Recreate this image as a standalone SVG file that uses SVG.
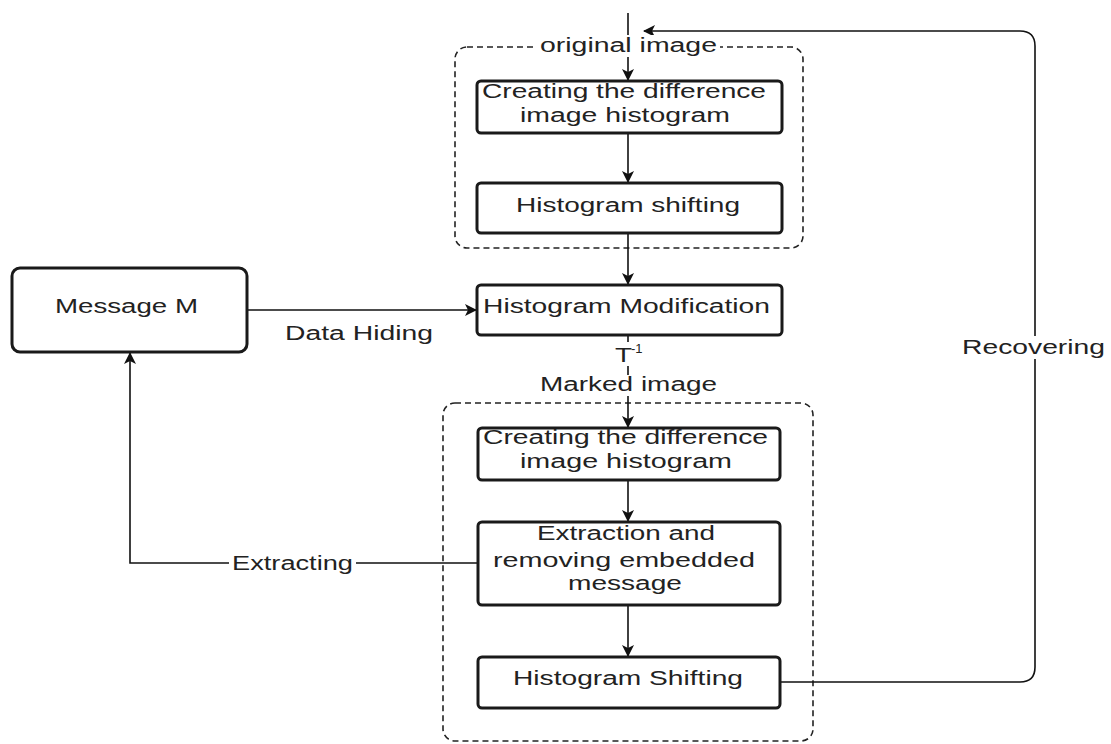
<svg xmlns="http://www.w3.org/2000/svg" width="1111" height="744" viewBox="0 0 1111 744">
<style>
text{font-family:"Liberation Sans",Arial,sans-serif;font-size:20px;fill:#222}
.sup{font-size:13px}
.box{fill:#fff;stroke:#1a1a1a;stroke-width:3}
.grp{fill:none;stroke:#222;stroke-width:1.6;stroke-dasharray:6 4}
.ln{fill:none;stroke:#111;stroke-width:1.6}
.bg{fill:#fff}
</style>
<defs>
<marker id="ah" markerWidth="12" markerHeight="12" viewBox="0 0 12 12" refX="11" refY="6" orient="auto" markerUnits="userSpaceOnUse">
<path d="M0,0 L12,6 L0,12 L3,6 z" fill="#111"/>
</marker>
</defs>
<rect width="1111" height="744" fill="#fff"/>
<g id="group-top"><rect class="grp" x="455" y="47" width="348" height="201" rx="12"/></g>
<g id="group-bottom"><rect class="grp" x="443" y="403" width="370" height="338" rx="12"/></g>
<g id="connectors">
<path class="ln" d="M628,13 V80" marker-end="url(#ah)"/>
<path class="ln" d="M628,133 V182" marker-end="url(#ah)"/>
<path class="ln" d="M628,233 V284" marker-end="url(#ah)"/>
<path class="ln" d="M247,310 H476" marker-end="url(#ah)"/>
<path class="ln" d="M628,335 V427" marker-end="url(#ah)"/>
<path class="ln" d="M628,480 V521" marker-end="url(#ah)"/>
<path class="ln" d="M628,605 V656" marker-end="url(#ah)"/>
<path class="ln" d="M478,563 H130 V353" marker-end="url(#ah)"/>
<path class="ln" d="M781,682 H1020 Q1035,682 1035,667 V46 Q1035,31 1020,31 H644" marker-end="url(#ah)"/>
<rect class="bg" x="537" y="35" width="183" height="22"/>
<text x="540" y="52" textLength="177" lengthAdjust="spacingAndGlyphs">original image</text>
<rect class="bg" x="610" y="342" width="34" height="24"/>
<text x="615" y="362" textLength="17" lengthAdjust="spacingAndGlyphs">T</text>
<text class="sup" x="631" y="353">-1</text>
<rect class="bg" x="537" y="375" width="183" height="21"/>
<text x="540" y="391" textLength="177" lengthAdjust="spacingAndGlyphs">Marked image</text>
<rect class="bg" x="229" y="551" width="127" height="23"/>
<text x="232" y="570" textLength="121" lengthAdjust="spacingAndGlyphs">Extracting</text>
<rect class="bg" x="960" y="336" width="148" height="23"/>
<text x="962" y="354" textLength="143" lengthAdjust="spacingAndGlyphs">Recovering</text>
<text x="285" y="340" textLength="148" lengthAdjust="spacingAndGlyphs">Data Hiding</text>
</g>
<g id="node-create1">
<rect class="box" x="477" y="81" width="305" height="52" rx="4"/>
<text x="482" y="98" textLength="284" lengthAdjust="spacingAndGlyphs">Creating the difference</text>
<text x="520" y="122" textLength="210" lengthAdjust="spacingAndGlyphs">image histogram</text>
</g>
<g id="node-shift1">
<rect class="box" x="477" y="183" width="305" height="50" rx="4"/>
<text x="516" y="212" textLength="224" lengthAdjust="spacingAndGlyphs">Histogram shifting</text>
</g>
<g id="node-modification">
<rect class="box" x="477" y="285" width="305" height="50" rx="4"/>
<text x="483" y="313" textLength="287" lengthAdjust="spacingAndGlyphs">Histogram Modification</text>
</g>
<g id="node-message">
<rect class="box" x="12" y="268" width="235" height="84" rx="8"/>
<text x="55" y="313" textLength="143" lengthAdjust="spacingAndGlyphs">Message M</text>
</g>
<g id="node-create2">
<rect class="box" x="478" y="428" width="302" height="52" rx="4"/>
<text x="483" y="444" textLength="285" lengthAdjust="spacingAndGlyphs">Creating the difference</text>
<text x="520" y="468" textLength="212" lengthAdjust="spacingAndGlyphs">image histogram</text>
</g>
<g id="node-extraction">
<rect class="box" x="478" y="522" width="302" height="83" rx="4"/>
<text x="537" y="540" textLength="178" lengthAdjust="spacingAndGlyphs">Extraction and</text>
<text x="493" y="567" textLength="262" lengthAdjust="spacingAndGlyphs">removing embedded</text>
<text x="568" y="590" textLength="114" lengthAdjust="spacingAndGlyphs">message</text>
</g>
<g id="node-shift2">
<rect class="box" x="478" y="657" width="302" height="51" rx="4"/>
<text x="513" y="685" textLength="230" lengthAdjust="spacingAndGlyphs">Histogram Shifting</text>
</g>
</svg>
